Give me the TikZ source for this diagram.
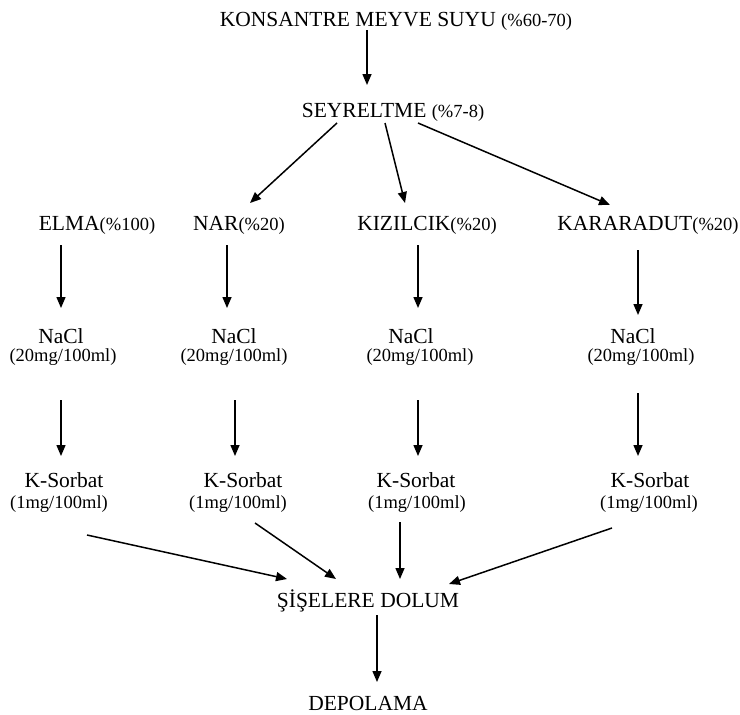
\documentclass[tikz,border=0pt]{standalone}
\usepackage{fontspec}
\setmainfont{Liberation Serif}
\usetikzlibrary{arrows.meta}

\newcommand\mainfont{\fontsize{21.5}{24}\selectfont}
\newcommand\subfont{\fontsize{18.5}{22}\selectfont}

\tikzset{
  lbl/.style={anchor=base, inner sep=0pt, font=\mainfont},
  sub/.style={anchor=base, inner sep=0pt, font=\subfont},
  arr/.style={line width=1.5pt, -{Triangle[length=11pt,width=9pt]}}
}

\begin{document}
\begin{tikzpicture}[x=1pt, y=-1pt]
  \useasboundingbox (0,0) rectangle (740,715);
  \node[lbl] (kms) at (396, 26) {KONSANTRE MEYVE SUYU {\subfont(\%60-70)}};
  \node[lbl] (dil) at (393, 117) {SEYRELTME {\subfont(\%7-8)}};
  \node[lbl] (elma) at (97, 230) {ELMA{\subfont(\%100)}};
  \node[lbl] (nar) at (239, 230) {NAR{\subfont(\%20)}};
  \node[lbl] (kiz) at (427, 230) {KIZILCIK{\subfont(\%20)}};
  \node[lbl] (kar) at (648, 230) {KARARADUT{\subfont(\%20)}};
  \node[lbl] (n1) at (61, 343) {NaCl};
  \node[lbl] (n2) at (234, 343) {NaCl};
  \node[lbl] (n3) at (411, 343) {NaCl};
  \node[lbl] (n4) at (633, 343) {NaCl};
  \node[sub] (d1) at (63, 361) {(20mg/100ml)};
  \node[sub] (d2) at (234, 361) {(20mg/100ml)};
  \node[sub] (d3) at (420, 361) {(20mg/100ml)};
  \node[sub] (d4) at (641, 361) {(20mg/100ml)};
  \node[lbl] (s1) at (64, 487) {K-Sorbat};
  \node[lbl] (s2) at (243, 487) {K-Sorbat};
  \node[lbl] (s3) at (416, 487) {K-Sorbat};
  \node[lbl] (s4) at (650, 487) {K-Sorbat};
  \node[sub] (m1) at (59, 508) {(1mg/100ml)};
  \node[sub] (m2) at (238, 508) {(1mg/100ml)};
  \node[sub] (m3) at (417, 508) {(1mg/100ml)};
  \node[sub] (m4) at (649, 508) {(1mg/100ml)};
  \node[lbl] (fill) at (368, 607) {ŞİŞELERE DOLUM};
  \node[lbl] (store) at (368, 710) {DEPOLAMA};
  \draw[arr] ([xshift=-29pt,yshift=-4pt]kms.base) -- ([xshift=-26pt,yshift=32pt]dil.base);
  \draw[arr] ([xshift=-56pt,yshift=-6pt]dil.base) -- ([xshift=11pt,yshift=27pt]nar.base);
  \draw[arr] ([xshift=-8pt,yshift=-6pt]dil.base) -- ([xshift=-22pt,yshift=27pt]kiz.base);
  \draw[arr] ([xshift=25pt,yshift=-6pt]dil.base) -- ([xshift=-38pt,yshift=25pt]kar.base);
  \draw[arr] ([xshift=-36pt,yshift=-15pt]elma.base) -- ([yshift=35pt]n1.base);
  \draw[arr] ([xshift=-12pt,yshift=-15pt]nar.base) -- ([xshift=-7pt,yshift=35pt]n2.base);
  \draw[arr] ([xshift=-9pt,yshift=-15pt]kiz.base) -- ([xshift=7pt,yshift=35pt]n3.base);
  \draw[arr] ([xshift=-10pt,yshift=-20pt]kar.base) -- ([xshift=5pt,yshift=28pt]n4.base);
  \draw[arr] ([xshift=-2pt,yshift=-39pt]d1.base) -- ([xshift=-3pt,yshift=31pt]s1.base);
  \draw[arr] ([xshift=1pt,yshift=-39pt]d2.base) -- ([xshift=-8pt,yshift=31pt]s2.base);
  \draw[arr] ([xshift=-2pt,yshift=-39pt]d3.base) -- ([xshift=2pt,yshift=31pt]s3.base);
  \draw[arr] ([xshift=-3pt,yshift=-32pt]d4.base) -- ([xshift=-12pt,yshift=31pt]s4.base);
  \draw[arr] ([xshift=28pt,yshift=-27pt]m1.base) -- ([xshift=-81pt,yshift=28pt]fill.base);
  \draw[arr] ([xshift=17pt,yshift=-15pt]m2.base) -- ([xshift=-32pt,yshift=28pt]fill.base);
  \draw[arr] ([xshift=-17pt,yshift=-14pt]m3.base) -- ([xshift=32pt,yshift=28pt]fill.base);
  \draw[arr] ([xshift=-37pt,yshift=-20pt]m4.base) -- ([xshift=81pt,yshift=23pt]fill.base);
  \draw[arr] ([xshift=9pt,yshift=-8pt]fill.base) -- ([xshift=9pt,yshift=28pt]store.base);
\end{tikzpicture}
\end{document}
